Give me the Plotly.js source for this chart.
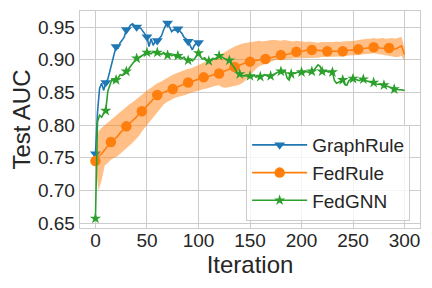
<!DOCTYPE html>
<html>
<head>
<meta charset="utf-8">
<script src="https://cdn.plot.ly/plotly-3.0.1.min.js"></script>
<style>html,body{margin:0;padding:0;background:#fff;}#chart{width:432px;height:288px;}</style>
</head>
<body>
<div id="chart"></div>
<script>
// ---- data ----
const graphRuleIter = [0,2,4,6,8,10,12,14,16,18,20,22,24,26,28,30,32,34,36,38,40,42,44,46,48,50,52,54,56,58,60,62,64,66,68,70,72,74,76,78,80,82,84,86,88,90,92,94,96,98,100];
const graphRuleAUC = [0.756,0.820,0.856,0.864,0.853,0.865,0.870,0.883,0.893,0.905,0.920,0.918,0.926,0.930,0.935,0.946,0.948,0.953,0.955,0.952,0.950,0.949,0.948,0.943,0.940,0.935,0.920,0.932,0.922,0.928,0.929,0.933,0.936,0.945,0.952,0.956,0.950,0.943,0.946,0.945,0.947,0.944,0.940,0.934,0.932,0.928,0.920,0.915,0.922,0.925,0.926];

const fedRuleIter = [0,3,6,9,12,15,18,21,24,27,30,33,36,39,42,45,48,51,54,57,60,63,66,69,72,75,78,81,84,87,90,93,96,99,102,105,108,111,114,117,120,123,126,129,132,135,138,141,144,147,150,153,156,159,162,165,168,171,174,177,180,183,186,189,192,195,198,201,204,207,210,213,216,219,222,225,228,231,234,237,240,243,246,249,252,255,258,261,264,267,270,273,276,279,282,285,288,291,294,297,300];
const fedRuleAUC = [0.745,0.752,0.756,0.762,0.768,0.774,0.778,0.782,0.788,0.793,0.798,0.803,0.807,0.811,0.817,0.821,0.826,0.832,0.836,0.841,0.846,0.848,0.850,0.851,0.853,0.855,0.857,0.860,0.861,0.863,0.865,0.867,0.868,0.870,0.871,0.873,0.874,0.875,0.877,0.878,0.879,0.881,0.883,0.885,0.887,0.889,0.891,0.893,0.894,0.896,0.897,0.898,0.899,0.899,0.900,0.901,0.903,0.904,0.905,0.906,0.907,0.908,0.909,0.910,0.911,0.912,0.913,0.914,0.914,0.915,0.915,0.915,0.914,0.914,0.913,0.913,0.912,0.913,0.913,0.912,0.913,0.914,0.914,0.915,0.915,0.916,0.917,0.917,0.918,0.918,0.919,0.919,0.918,0.918,0.917,0.918,0.917,0.916,0.919,0.921,0.908];
const fedRuleUpper = [0.750,0.790,0.796,0.800,0.805,0.809,0.813,0.817,0.820,0.825,0.828,0.832,0.835,0.839,0.842,0.846,0.850,0.854,0.857,0.861,0.864,0.866,0.869,0.871,0.874,0.877,0.879,0.881,0.883,0.884,0.886,0.887,0.889,0.891,0.893,0.895,0.897,0.899,0.901,0.904,0.907,0.909,0.912,0.915,0.918,0.920,0.922,0.924,0.925,0.926,0.927,0.928,0.929,0.929,0.928,0.929,0.929,0.930,0.930,0.929,0.929,0.930,0.929,0.928,0.928,0.929,0.928,0.927,0.927,0.928,0.927,0.927,0.926,0.927,0.927,0.926,0.927,0.927,0.928,0.927,0.928,0.928,0.929,0.928,0.929,0.930,0.931,0.931,0.932,0.932,0.933,0.932,0.933,0.933,0.932,0.933,0.933,0.932,0.934,0.935,0.918];
const fedRuleLower = [0.742,0.700,0.716,0.738,0.742,0.747,0.750,0.752,0.756,0.760,0.764,0.768,0.773,0.778,0.783,0.790,0.796,0.802,0.808,0.814,0.820,0.826,0.831,0.835,0.838,0.840,0.842,0.843,0.845,0.846,0.848,0.850,0.851,0.852,0.854,0.855,0.856,0.858,0.859,0.860,0.861,0.858,0.857,0.858,0.859,0.859,0.861,0.863,0.866,0.871,0.876,0.882,0.886,0.890,0.892,0.894,0.896,0.898,0.899,0.900,0.900,0.901,0.901,0.901,0.902,0.902,0.902,0.902,0.902,0.903,0.903,0.903,0.903,0.904,0.904,0.904,0.905,0.905,0.905,0.905,0.905,0.906,0.906,0.906,0.906,0.907,0.908,0.908,0.909,0.909,0.910,0.909,0.908,0.907,0.906,0.905,0.905,0.904,0.904,0.906,0.898];

const fedGNNIter = [0,2,4,6,8,10,12,14,16,18,20,22,24,26,28,30,32,34,36,38,40,42,44,46,48,50,52,54,56,58,60,62,64,66,68,70,72,74,76,78,80,82,84,86,88,90,92,94,96,98,100,102,104,106,108,110,112,114,116,118,120,122,124,126,128,130,132,134,136,138,140,142,144,146,148,150,152,154,156,158,160,162,164,166,168,170,172,174,176,178,180,182,184,186,188,190,192,194,196,198,200,202,204,206,208,210,212,214,216,218,220,222,224,226,228,230,232,234,236,238,240,242,244,246,248,250,252,254,256,258,260,262,264,266,268,270,272,274,276,278,280,282,284,286,288,290,292,294,296,298,300];
const fedGNNAUC = [0.657,0.805,0.815,0.812,0.818,0.822,0.852,0.862,0.870,0.866,0.869,0.872,0.877,0.876,0.880,0.882,0.885,0.890,0.894,0.899,0.902,0.903,0.905,0.908,0.910,0.911,0.910,0.909,0.912,0.910,0.911,0.910,0.908,0.911,0.909,0.907,0.909,0.906,0.908,0.904,0.906,0.905,0.902,0.904,0.899,0.899,0.901,0.898,0.901,0.906,0.910,0.904,0.901,0.903,0.899,0.898,0.900,0.902,0.901,0.904,0.906,0.905,0.903,0.901,0.899,0.899,0.893,0.890,0.884,0.879,0.878,0.877,0.875,0.876,0.874,0.875,0.874,0.876,0.873,0.875,0.874,0.875,0.877,0.876,0.874,0.875,0.877,0.879,0.880,0.881,0.882,0.880,0.883,0.872,0.869,0.878,0.880,0.879,0.881,0.880,0.881,0.880,0.882,0.881,0.880,0.882,0.884,0.888,0.892,0.890,0.882,0.881,0.883,0.881,0.882,0.881,0.868,0.864,0.865,0.867,0.869,0.862,0.861,0.868,0.870,0.871,0.870,0.869,0.868,0.870,0.870,0.868,0.867,0.866,0.866,0.865,0.863,0.862,0.863,0.861,0.861,0.860,0.858,0.858,0.857,0.855,0.855,0.854,0.854,0.854,0.853];

const xTicks = [0,50,100,150,200,250,300];
const yTicks = [0.65,0.70,0.75,0.80,0.85,0.90,0.95];

// ---- style ----
const BLUE = '#1f77b4', ORANGE = '#ff7f0e', GREEN = '#2ca02c';
const FONT = 'Liberation Sans, Arial, sans-serif';
const TXT = '#262626';
const LW = 1.6;

// pick every n-th point (markevery)
function thin(arr, every, skipLast) {
  return arr.filter((v, i) => i % every === 0 && !(skipLast && i === arr.length - 1));
}

const series = [
  {name: 'GraphRule', x: graphRuleIter, y: graphRuleAUC, color: BLUE, symbol: 'triangle-down', size: 9.5, every: 5, skipLast: false},
  {name: 'FedRule', x: fedRuleIter, y: fedRuleAUC, color: ORANGE, symbol: 'circle', size: 10.5, every: 5, skipLast: true},
  {name: 'FedGNN', x: fedGNNIter, y: fedGNNAUC, color: GREEN, symbol: 'star', size: 8.5, every: 5, skipLast: true}
];

const traces = [];
const band = [
  {x: fedRuleIter, y: fedRuleLower, mode: 'lines', line: {width: 0, color: ORANGE},
   showlegend: false, hoverinfo: 'skip'},
  {x: fedRuleIter, y: fedRuleUpper, mode: 'lines', line: {width: 0, color: ORANGE},
   fill: 'tonexty', fillcolor: 'rgba(255,127,14,0.5)', showlegend: false, hoverinfo: 'skip'}
];

series.forEach(s => {
  if (s.name === 'FedRule') band.forEach(b => traces.push(b));
  traces.push({x: s.x, y: s.y, mode: 'lines', line: {color: s.color, width: LW}, showlegend: false});
  traces.push({x: thin(s.x, s.every, s.skipLast), y: thin(s.y, s.every, s.skipLast), mode: 'markers',
    marker: {symbol: s.symbol, color: s.color, size: s.size, line: {width: 0}}, showlegend: false});
});
// legend entries
series.forEach(s => {
  traces.push({x: [null], y: [null], name: s.name, mode: 'lines+markers',
    line: {color: s.color, width: LW},
    marker: {symbol: s.symbol, color: s.color, size: s.size}});
});

const layout = {
  width: 432, height: 288,
  margin: {l: 80, r: 12, t: 11, b: 60},
  paper_bgcolor: '#ffffff', plot_bgcolor: '#ffffff',
  font: {family: FONT, color: TXT, size: 19},
  showlegend: true,
  xaxis: {
    range: [-15, 315], tickvals: xTicks, ticktext: xTicks.map(String),
    showgrid: true, gridcolor: '#cccccc', gridwidth: 1,
    showline: true, linecolor: '#cccccc', linewidth: 1.25, mirror: true,
    zeroline: false, ticks: '', ticklabelstandoff: -5,
    tickfont: {family: FONT, size: 19, color: TXT},
    title: {text: 'Iteration', font: {family: FONT, size: 24, color: TXT}, standoff: 0}
  },
  yaxis: {
    range: [0.6425, 0.9745], tickvals: yTicks, ticktext: yTicks.map(v => v.toFixed(2)),
    showgrid: true, gridcolor: '#cccccc', gridwidth: 1,
    showline: true, linecolor: '#cccccc', linewidth: 1.25, mirror: true,
    zeroline: false, ticks: '', tickfont: {family: FONT, size: 19, color: TXT},
    title: {text: 'Test AUC', font: {family: FONT, size: 24, color: TXT}, standoff: 0}
  },
  legend: {
    x: 0.971, y: 0.032, xanchor: 'right', yanchor: 'bottom', traceorder: 'normal',
    bgcolor: 'rgba(255,255,255,0.8)', bordercolor: '#cccccc', borderwidth: 1,
    font: {family: FONT, size: 19, color: TXT}, tracegroupgap: 0, itemwidth: 55
  }
};

Plotly.newPlot('chart', traces, layout, {staticPlot: true, displayModeBar: false});
</script>
</body>
</html>
